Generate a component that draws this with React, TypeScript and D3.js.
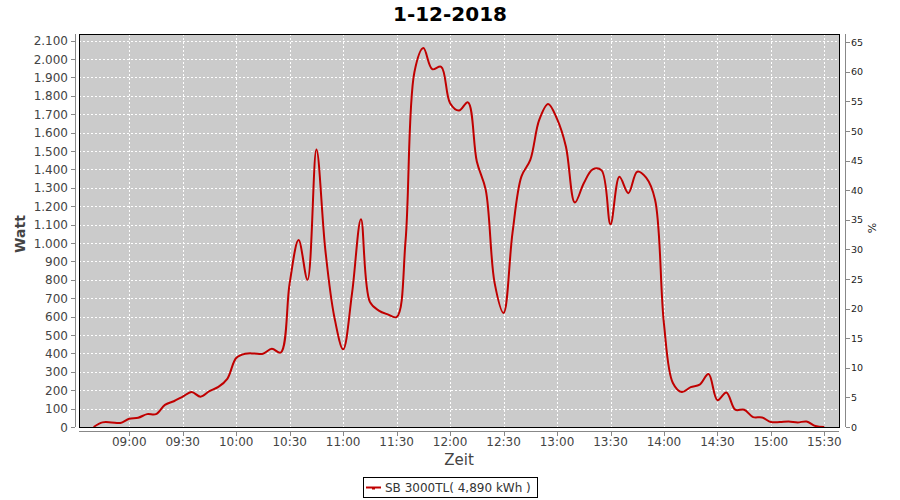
import React from "react";
import * as d3 from "d3";

const TITLE = "1-12-2018";
const Y_LABEL = "Watt";
const Y2_LABEL = "%";
const X_LABEL = "Zeit";
const SERIES_NAME = "SB 3000TL( 4,890 kWh )";

const times = [
  "08:40", "08:45", "08:50", "08:55", "09:00", "09:05", "09:10", "09:15", "09:20", "09:25",
  "09:30", "09:35", "09:40", "09:45", "09:50", "09:55", "10:00", "10:05", "10:10", "10:15",
  "10:20", "10:25", "10:30", "10:35", "10:40", "10:45", "10:50", "10:55", "11:00", "11:05",
  "11:10", "11:15", "11:20", "11:25", "11:30", "11:35", "11:40", "11:45", "11:50", "11:55",
  "12:00", "12:05", "12:10", "12:15", "12:20", "12:25", "12:30", "12:35", "12:40", "12:45",
  "12:50", "12:55", "13:00", "13:05", "13:10", "13:15", "13:20", "13:25", "13:30", "13:35",
  "13:40", "13:45", "13:50", "13:55", "14:00", "14:05", "14:10", "14:15", "14:20", "14:25",
  "14:30", "14:35", "14:40", "14:45", "14:50", "14:55", "15:00", "15:05", "15:10", "15:15",
  "15:20", "15:25", "15:30",
];

const watts = [
  0, 25, 25, 22, 45, 50, 70, 70, 120, 140,
  165, 190, 165, 195, 218, 262, 375, 398, 400, 398,
  425, 405, 782, 1017, 800, 1508, 963, 601, 422, 728,
  1130, 680, 633, 612, 598, 1010, 1930, 2060, 1945, 1958,
  1760, 1720, 1765, 1443, 1289, 782, 620, 1054, 1361, 1452,
  1669, 1756, 1675, 1524, 1220, 1325, 1401, 1395, 1102, 1360,
  1271, 1388, 1355, 1235, 560, 239, 190, 217, 230, 288,
  146, 188, 94, 94, 54, 52, 27, 27, 30, 25,
  30, 5, 0,
];

const xTickLabels = ["09:00", "09:30", "10:00", "10:30", "11:00", "11:30", "12:00", "12:30", "13:00", "13:30", "14:00", "14:30", "15:00", "15:30"];
const wattTicks = [0, 100, 200, 300, 400, 500, 600, 700, 800, 900, 1000, 1100, 1200, 1300, 1400, 1500, 1600, 1700, 1800, 1900, 2000, 2100];
const percentTicks = [0, 5, 10, 15, 20, 25, 30, 35, 40, 45, 50, 55, 60, 65];

const toMin = (s: string) => {
  const [h, m] = s.split(":").map(Number);
  return h * 60 + m;
};

const fmt = d3
  .formatLocale({ thousands: ".", grouping: [3], decimal: ",", currency: ["", ""] })
  .format(",");

export default function App() {
  const W = 900;
  const H = 500;
  const left = 79;
  const right = 839;
  const top = 34;
  const bottom = 427;
  const font = "DejaVu Sans, sans-serif";

  const t0 = toMin(times[0]);
  const t1 = toMin(times[times.length - 1]);
  const span = t1 - t0;
  const x = d3.scaleLinear().domain([t0 - 0.02 * span, t1 + 0.02 * span]).range([left, right]);
  const y = d3.scaleLinear().domain([0, 2136.4]).range([bottom, top]);
  const yR = d3.scaleLinear().domain([0, 66.4]).range([bottom, top]);

  const pts: [number, number][] = watts.map((v, i) => [x(toMin(times[i])), y(v)]);
  const linePath = d3.line().curve(d3.curveCatmullRom.alpha(0.5))(pts) || "";

  const lineColor = "#c00000";
  const axisColor = "#888888";
  const textColor = "#444444";

  return (
    <svg
      width={W}
      height={H}
      viewBox={`0 0 ${W} ${H}`}
      style={{ position: "absolute", left: 0, top: 0, background: "#ffffff" }}
      fontFamily={font}
    >
      <rect x={0} y={0} width={W} height={H} fill="#ffffff" />
      <text x={450} y={21} textAnchor="middle" fontSize={20} fontWeight="bold" fill="#000">
        {TITLE}
      </text>

      {/* plot background */}
      <rect x={left} y={top} width={right - left} height={bottom - top} fill="#cbcbcb" />

      {/* grid */}
      {wattTicks.map((t) => (
        <line
          key={"gy" + t}
          x1={left}
          x2={right}
          y1={Math.round(y(t)) + 0.5}
          y2={Math.round(y(t)) + 0.5}
          stroke="#ffffff"
          strokeWidth={1}
          strokeDasharray="2,2"
        />
      ))}
      {xTickLabels.map((t) => (
        <line
          key={"gx" + t}
          x1={Math.round(x(toMin(t))) + 0.5}
          x2={Math.round(x(toMin(t))) + 0.5}
          y1={top}
          y2={bottom}
          stroke="#ffffff"
          strokeWidth={1}
          strokeDasharray="2,2"
        />
      ))}

      {/* series */}
      <path d={linePath} fill="none" stroke={lineColor} strokeWidth={2} strokeLinejoin="round" />

      {/* plot border */}
      <rect x={left + 0.5} y={top + 0.5} width={right - left} height={bottom - top} fill="none" stroke="#000" strokeWidth={1} />

      {/* left axis */}
      <line x1={75.5} x2={75.5} y1={top} y2={bottom} stroke={axisColor} />
      {wattTicks.map((t) => (
        <g key={"ly" + t}>
          <line x1={71} x2={75} y1={Math.round(y(t)) + 0.5} y2={Math.round(y(t)) + 0.5} stroke={axisColor} />
          <text x={68} y={y(t) + 4.5} textAnchor="end" fontSize={12} fill={textColor}>
            {fmt(t)}
          </text>
        </g>
      ))}
      <text
        transform={`translate(25,234) rotate(-90)`}
        textAnchor="middle"
        fontSize={14}
        fontWeight="bold"
        fill={textColor}
      >
        {Y_LABEL}
      </text>

      {/* right axis */}
      <line x1={845.5} x2={845.5} y1={top} y2={bottom} stroke={axisColor} />
      {percentTicks.map((t) => (
        <g key={"ry" + t}>
          <line x1={846} x2={850} y1={Math.round(yR(t)) + 0.5} y2={Math.round(yR(t)) + 0.5} stroke={axisColor} />
          <text x={851} y={yR(t) + 3.5} textAnchor="start" fontSize={9.5} fill="#222">
            {t}
          </text>
        </g>
      ))}
      <text transform={`translate(876,228) rotate(-90)`} textAnchor="middle" fontSize={11} fill="#222">
        {Y2_LABEL}
      </text>

      {/* bottom axis */}
      <line x1={left} x2={right} y1={431.5} y2={431.5} stroke={axisColor} />
      {xTickLabels.map((t) => (
        <g key={"bx" + t}>
          <line
            x1={Math.round(x(toMin(t))) + 0.5}
            x2={Math.round(x(toMin(t))) + 0.5}
            y1={432}
            y2={436}
            stroke={axisColor}
          />
          <text x={x(toMin(t))} y={446} textAnchor="middle" fontSize={12} fill={textColor}>
            {t}
          </text>
        </g>
      ))}
      <text x={459} y={465} textAnchor="middle" fontSize={15} fill={textColor}>
        {X_LABEL}
      </text>

      {/* legend */}
      <rect x={363.5} y={477.5} width={174} height={20} fill="#ffffff" stroke="#000" strokeWidth={1} />
      <line x1={366} x2={381} y1={487.5} y2={487.5} stroke={lineColor} strokeWidth={2} />
      <rect x={372} y={487} width={3} height={2.5} fill={lineColor} />
      <text x={385} y={491.5} fontSize={12} fill="#333">
        {SERIES_NAME}
      </text>
    </svg>
  );
}
